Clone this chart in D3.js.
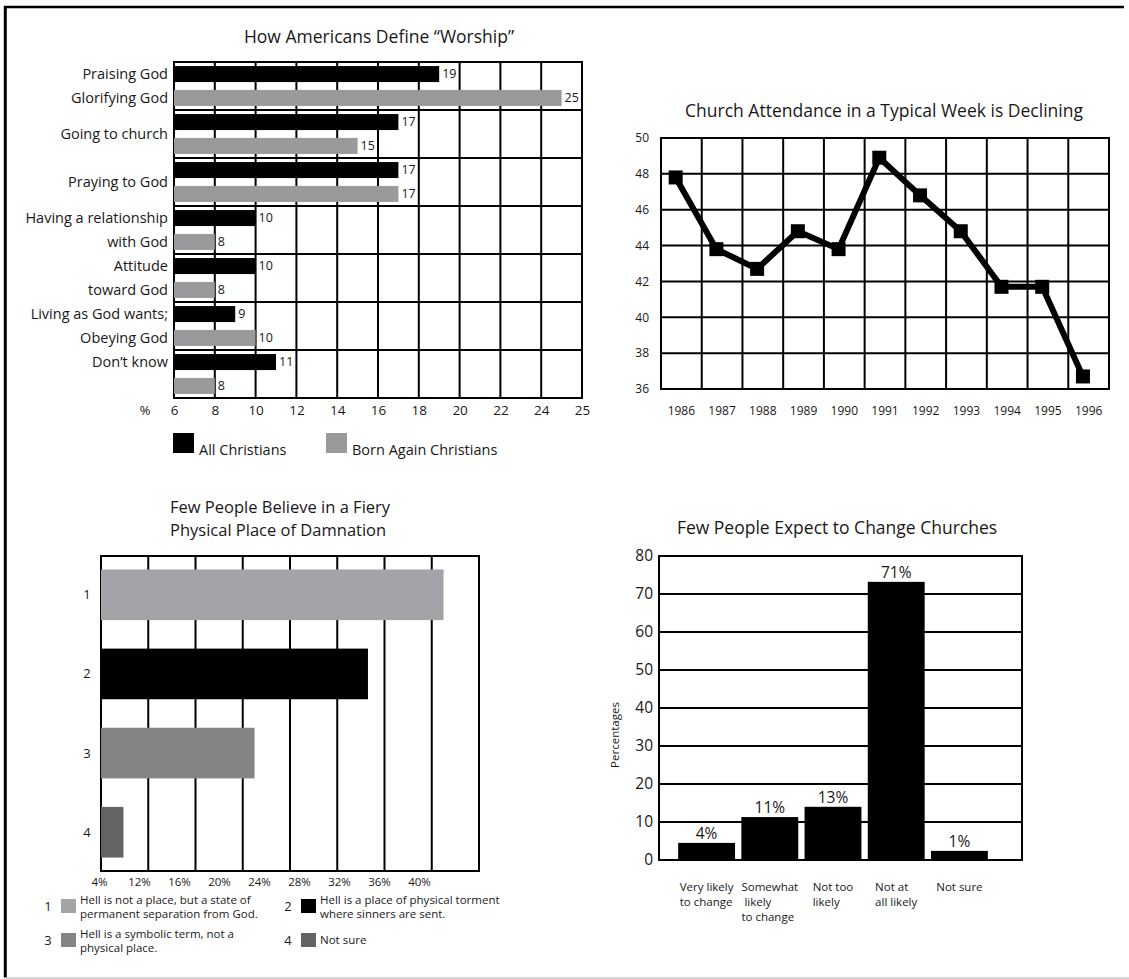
<!DOCTYPE html>
<html>
<head>
<meta charset="utf-8">
<script src="https://cdn.jsdelivr.net/npm/d3@7"></script>
<style>
  body { margin: 0; background: #fff; }
  svg text { font-family: "Open Sans", "Noto Sans", sans-serif; fill: #1a1718; }
</style>
</head>
<body>
<div id="chart"></div>
<script>
// --- How Americans define worship ---
const worshipLabels = [["Praising God", "Glorifying God"], ["Going to church"], ["Praying to God"],
  ["Having a relationship", "with God"], ["Attitude", "toward God"], ["Living as God wants;", "Obeying God"], ["Don’t know"]];
const worshipSeries = ["All Christians", "Born Again Christians"];
const allChristians = [19, 17, 17, 10, 10, 9, 11];
const bornAgain = [25, 15, 17, 8, 8, 10, 8];
const worshipTicks = [6, 8, 10, 12, 14, 16, 18, 20, 22, 24, 26];
const worshipTickLabels = ["6", "8", "10", "12", "14", "16", "18", "20", "22", "24", "25"];

// --- Church attendance ---
const years = [1986, 1987, 1988, 1989, 1990, 1991, 1992, 1993, 1994, 1995, 1996];
const attendance = [47.8, 43.8, 42.7, 44.8, 43.8, 48.9, 46.8, 44.8, 41.7, 41.7, 36.7];
const attendanceTicks = [36, 38, 40, 42, 44, 46, 48, 50];

// --- Hell ---
const hellCodes = ["1", "2", "3", "4"];
const hellValues = [37.0, 30.6, 21.0, 9.9];
const hellGrid = [8, 12, 16, 20, 24, 28, 32, 36, 40];
const hellTickLabels = ["4%", "12%", "16%", "20%", "24%", "28%", "32%", "36%", "40%"];
const hellLegend = [["Hell is not a place, but a state of", "permanent separation from God."],
  ["Hell is a place of physical torment", "where sinners are sent."],
  ["Hell is a symbolic term, not a", "physical place."], ["Not sure"]];

// --- Changing churches ---
const changeCats = [["Very likely", "to change"], ["Somewhat", " likely", "to change"], ["Not too", "likely"], ["Not at", "all likely"], ["Not sure"]];
const changeValues = [4.5, 11.3, 14, 73.2, 2.4];
const changeLabels = ["4%", "11%", "13%", "71%", "1%"];
const changeTicks = [0, 10, 20, 30, 40, 50, 60, 70, 80];

const svg = d3.select('#chart').append('svg').attr('width', 1129).attr('height', 979);

// page frame
svg.append('line').attr('x1', 4).attr('x2', 1124).attr('y1', 7).attr('y2', 7).attr('stroke', '#000').attr('stroke-width', 2.5);
svg.append('line').attr('x1', 5.3).attr('x2', 5.3).attr('y1', 6).attr('y2', 978).attr('stroke', '#000').attr('stroke-width', 3);
svg.append('line').attr('x1', 4).attr('x2', 1129).attr('y1', 978).attr('y2', 978).attr('stroke', '#c8c8c8').attr('stroke-width', 1.5);

function gridLine(g, x1, x2, y1, y2) {
  g.append('line').attr('x1', x1).attr('x2', x2).attr('y1', y1).attr('y2', y2)
    .attr('stroke', '#000').attr('stroke-width', 2).attr('stroke-linecap', 'square');
}

// ================= chart 1 =================
(function() {
  const g = svg.append('g');
  const x = d3.scaleLinear().domain([6, 26]).range([174, 582]);
  const y = d3.scaleBand().domain(d3.range(worshipLabels.length)).range([62, 398]);
  const s = d3.scaleBand().domain(worshipSeries).range([0, y.bandwidth()]).paddingInner(0.33).paddingOuter(0.17);
  const colors = ['#000', '#999a9c'];
  const [top, bottom] = y.range();

  g.append('text').attr('x', 379).attr('y', 43).attr('text-anchor', 'middle')
    .style('font-size', '17.5px').text('How Americans Define “Worship”');

  worshipTicks.forEach(t => gridLine(g, x(t), x(t), top, bottom));
  d3.range(worshipLabels.length + 1).forEach(i => {
    const yy = i < worshipLabels.length ? y(i) : bottom;
    gridLine(g, x(6), x(26), yy, yy);
  });

  [allChristians, bornAgain].forEach((vals, j) => {
    const ser = worshipSeries[j];
    g.selectAll('.bar' + j).data(vals).enter().append('rect')
      .attr('x', x(6)).attr('y', (d, i) => y(i) + s(ser))
      .attr('width', d => x(d) - x(6)).attr('height', s.bandwidth())
      .attr('fill', colors[j]);
    g.selectAll('.val' + j).data(vals).enter().append('text')
      .attr('x', d => x(d) + 3).attr('y', (d, i) => y(i) + s(ser) + s.bandwidth() / 2)
      .attr('dy', '0.35em').style('font-size', '12.5px').text(d => d);
  });

  // category labels: two lines sit next to the two bars, single lines centre in the row
  worshipLabels.forEach((lines, i) => {
    lines.forEach((line, k) => {
      let yy;
      if (lines.length === 2) yy = y(i) + s(worshipSeries[k]) + s.bandwidth() / 2;
      else if (i === worshipLabels.length - 1) yy = y(i) + s(worshipSeries[0]) + s.bandwidth() / 2;
      else yy = y(i) + y.bandwidth() / 2;
      g.append('text').attr('x', 168).attr('y', yy).attr('dy', '0.35em')
        .attr('text-anchor', 'end').style('font-size', '14.5px').text(line);
    });
  });

  const ax = g.append('g').attr('transform', `translate(0,${bottom})`)
    .call(d3.axisBottom(x).tickValues(worshipTicks).tickFormat((d, i) => worshipTickLabels[i]).tickSize(0).tickPadding(7));
  ax.select('.domain').remove();
  ax.selectAll('text').style('font-size', '13.5px').style('font-family', null);
  g.append('text').attr('x', 145).attr('y', 410).attr('dy', '0.35em').attr('text-anchor', 'middle')
    .style('font-size', '13px').text('%');

  // legend
  const lx = [173, 326];
  worshipSeries.forEach((ser, j) => {
    g.append('rect').attr('x', lx[j]).attr('y', 433).attr('width', 21).attr('height', 20).attr('fill', colors[j]);
    g.append('text').attr('x', lx[j] + 26).attr('y', 455).style('font-size', '14.5px').text(ser);
  });
})();

// ================= chart 2 =================
(function() {
  const g = svg.append('g');
  const x = d3.scaleBand().domain(years).range([661, 1109]);
  const y = d3.scaleLinear().domain([36, 50]).range([389, 138]);
  const px = d => x(d) + x.bandwidth() * 0.36;

  g.append('text').attr('x', 884).attr('y', 117).attr('text-anchor', 'middle')
    .style('font-size', '17.5px').text('Church Attendance in a Typical Week is Declining');

  years.forEach(yr => gridLine(g, x(yr), x(yr), y(50), y(36)));
  gridLine(g, x.range()[1], x.range()[1], y(50), y(36));
  attendanceTicks.forEach(t => gridLine(g, x.range()[0], x.range()[1], y(t), y(t)));

  const line = d3.line().x((d, i) => px(years[i])).y(d => y(d));
  g.append('path').datum(attendance).attr('d', line).attr('fill', 'none')
    .attr('stroke', '#000').attr('stroke-width', 6).attr('stroke-linejoin', 'miter');
  g.selectAll('.mk').data(attendance).enter().append('rect')
    .attr('x', (d, i) => px(years[i]) - 7).attr('y', d => y(d) - 7)
    .attr('width', 14).attr('height', 14).attr('fill', '#000');

  const ax = g.append('g').attr('transform', `translate(0,${y(36)})`)
    .call(d3.axisBottom(x).tickSize(0).tickPadding(17));
  ax.select('.domain').remove();
  ax.selectAll('text').style('font-size', '12px').style('font-family', null);

  const ay = g.append('g').attr('transform', `translate(${x.range()[0]},0)`)
    .call(d3.axisLeft(y).tickValues(attendanceTicks).tickSize(0).tickPadding(12));
  ay.select('.domain').remove();
  ay.selectAll('text').style('font-size', '12px').style('font-family', null);
})();

// ================= chart 3 =================
(function() {
  const g = svg.append('g');
  const x = d3.scaleLinear().domain([8, 40]).range([101, 479]);
  const y = d3.scaleBand().domain(hellCodes).range([556, 871]).paddingInner(0.36).paddingOuter(0.17);
  const colors = ['#a3a4a7', '#000', '#848486', '#646466'];
  const [top, bottom] = y.range();

  g.append('text').attr('x', 170).attr('y', 513).style('font-size', '16.5px').text('Few People Believe in a Fiery');
  g.append('text').attr('x', 170).attr('y', 536).style('font-size', '16.5px').text('Physical Place of Damnation');

  hellGrid.forEach(t => gridLine(g, x(t), x(t), top, bottom));
  gridLine(g, x(8), x(40), top, top);
  gridLine(g, x(8), x(40), bottom, bottom);

  g.selectAll('.bar').data(hellValues).enter().append('rect')
    .attr('x', x(8)).attr('y', (d, i) => y(hellCodes[i]))
    .attr('width', d => x(d) - x(8)).attr('height', y.bandwidth())
    .attr('fill', (d, i) => colors[i]);

  g.selectAll('.code').data(hellCodes).enter().append('text')
    .attr('x', 87).attr('y', d => y(d) + y.bandwidth() / 2).attr('dy', '0.35em')
    .attr('text-anchor', 'middle').style('font-size', '13px').text(d => d);

  // tick labels are spaced independently of the gridlines in the original
  const lab = d3.scalePoint().domain(hellTickLabels).range([x(8) - 2, x(8) + 318]);
  const ax = g.append('g').attr('transform', `translate(0,${bottom})`)
    .call(d3.axisBottom(lab).tickSize(0).tickPadding(7));
  ax.select('.domain').remove();
  ax.selectAll('text').style('font-size', '11.5px').style('font-family', null);

  // legend, 2 x 2
  const colX = [48, 288], rowY = [899, 933];
  hellLegend.forEach((lines, i) => {
    const cx = colX[i % 2], ry = rowY[Math.floor(i / 2)];
    g.append('text').attr('x', cx).attr('y', ry + 7).attr('dy', '0.35em').attr('text-anchor', 'middle')
      .style('font-size', '13px').text(hellCodes[i]);
    g.append('rect').attr('x', cx + 13).attr('y', ry).attr('width', 15).attr('height', 14).attr('fill', colors[i]);
    lines.forEach((line, k) => {
      const yy = lines.length === 1 ? ry + 7 : ry + 1 + k * 14;
      g.append('text').attr('x', cx + 32).attr('y', yy).attr('dy', '0.35em')
        .style('font-size', '11.5px').text(line);
    });
  });
})();

// ================= chart 4 =================
(function() {
  const g = svg.append('g');
  const left = 659, right = 1022;
  const x = d3.scaleBand().domain(d3.range(changeCats.length)).range([left + 16, left + 332]).paddingInner(0.1).paddingOuter(0.05);
  const y = d3.scaleLinear().domain([0, 80]).range([860, 556]);

  g.append('text').attr('x', 837).attr('y', 534).attr('text-anchor', 'middle')
    .style('font-size', '17.5px').text('Few People Expect to Change Churches');

  changeTicks.forEach(t => gridLine(g, left, right, y(t), y(t)));
  gridLine(g, left, left, y(80), y(0));
  gridLine(g, right, right, y(80), y(0));

  g.selectAll('.bar').data(changeValues).enter().append('rect')
    .attr('x', (d, i) => x(i)).attr('y', d => y(d))
    .attr('width', x.bandwidth()).attr('height', d => y(0) - y(d)).attr('fill', '#000');

  g.selectAll('.val').data(changeValues).enter().append('text')
    .attr('x', (d, i) => x(i) + x.bandwidth() / 2).attr('y', d => y(d) - 4)
    .attr('text-anchor', 'middle').style('font-size', '15.5px').text((d, i) => changeLabels[i]);

  const ay = g.append('g').attr('transform', `translate(${left},0)`)
    .call(d3.axisLeft(y).tickValues(changeTicks).tickSize(0).tickPadding(6));
  ay.select('.domain').remove();
  ay.selectAll('text').style('font-size', '15.5px').style('font-family', null);

  g.append('text').attr('transform', 'translate(615,735) rotate(-90)').attr('text-anchor', 'middle')
    .attr('dy', '0.35em').style('font-size', '11.5px').text('Percentages');

  // category labels: left aligned block centred under its bar
  changeCats.forEach((lines, i) => {
    const t = g.append('text').style('font-size', '11.5px');
    lines.forEach((line, k) => {
      t.append('tspan').attr('y', 891 + k * 15).attr('xml:space', 'preserve').text(line);
    });
    const w = d3.max(t.selectAll('tspan').nodes(), n => n.getComputedTextLength());
    t.selectAll('tspan').attr('x', x(i) + x.bandwidth() / 2 - w / 2);
  });
})();
</script>
</body>
</html>
